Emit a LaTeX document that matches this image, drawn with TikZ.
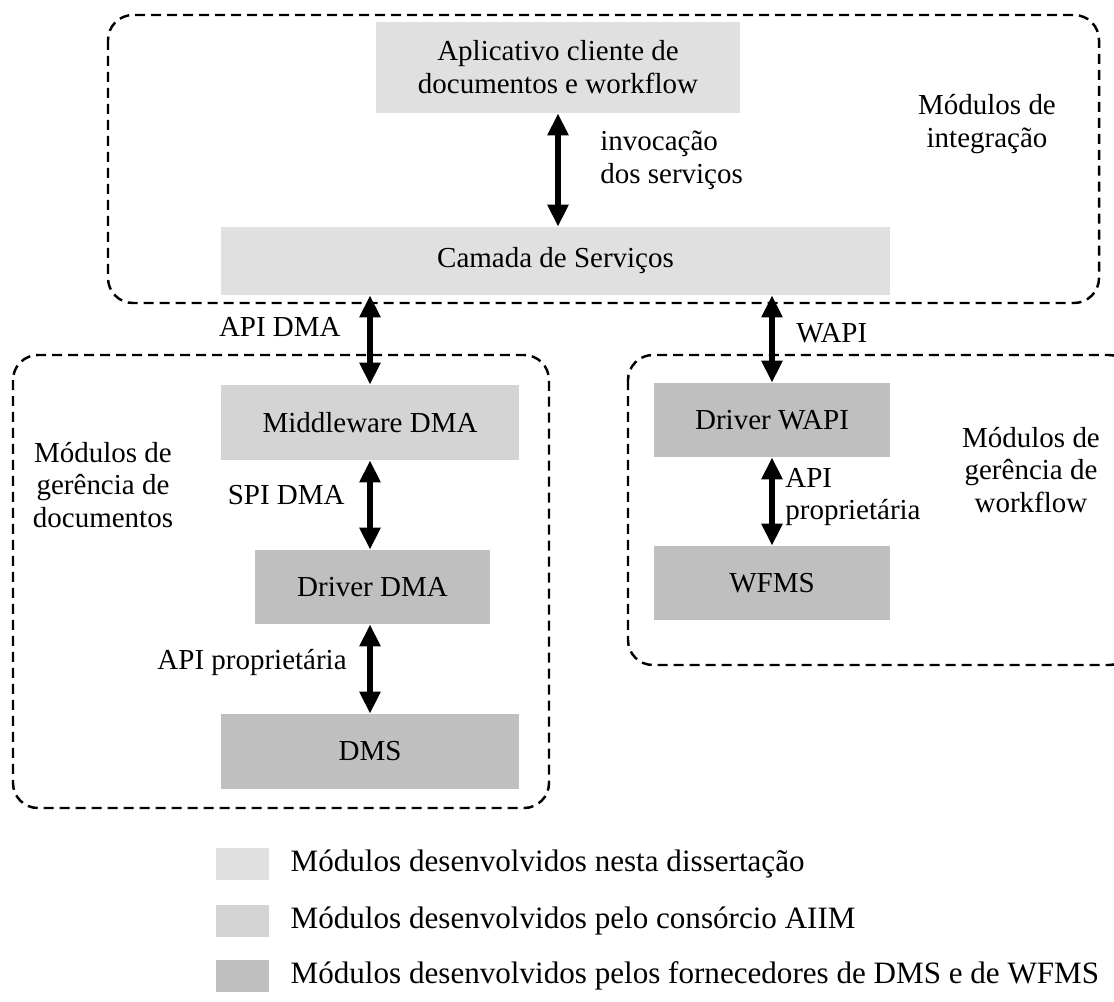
\documentclass[tikz,border=0pt]{standalone}
\usepackage{fontspec}
\setmainfont{Liberation Serif}
\usetikzlibrary{arrows.meta,positioning}

\definecolor{corDiss}{gray}{0.88}
\definecolor{corAiim}{gray}{0.83}
\definecolor{corForn}{gray}{0.75}

\begin{document}
\begin{tikzpicture}[x=0.02cm, y=-0.02cm,
  every node/.style={font=\fontsize{16.5}{18.7}\selectfont},
  modulo/.style={inner sep=0pt, align=center},
  grupo/.style={dash pattern=on 0.2cm off 0.12cm, line width=1.4pt, rounded corners=0.5cm},
  seta/.style={line width=3.4pt, {Triangle[width=0.4cm,length=0.44cm]}-{Triangle[width=0.4cm,length=0.44cm]}},
  rotulo/.style={inner sep=0pt, align=left},
  legenda/.style={minimum width=1.06cm, minimum height=0.64cm, inner sep=0pt},
  textoleg/.style={inner sep=0pt, font=\fontsize{17.7}{19}\selectfont}]

\useasboundingbox (0,0) rectangle (1114,1001);

% Grupos (tracejados)
\draw[grupo] (108,15) rectangle (1099,303);
\draw[grupo] (13,355) rectangle (549,808);
\draw[grupo] (628,355) rectangle (1134,665);

% Modulos de integracao
\node[modulo, fill=corDiss, minimum width=7.28cm, minimum height=1.82cm] (app) at (558,67.5) {Aplicativo cliente de\\documentos e workflow};
\node[modulo, fill=corDiss, minimum width=13.38cm, minimum height=1.36cm] (servicos) at (555.5,261) {Camada de Servi\c{c}os};

% Gerencia de documentos
\node[modulo, fill=corAiim, minimum width=5.96cm, minimum height=1.5cm] (middleware) at (370,422.5) {Middleware DMA};
\node[modulo, fill=corForn, minimum width=4.7cm, minimum height=1.48cm] (driverdma) at (372.5,587) {Driver DMA};
\node[modulo, fill=corForn, minimum width=5.96cm, minimum height=1.5cm] (dms) at (370,751.5) {DMS};

% Gerencia de workflow
\node[modulo, fill=corForn, minimum width=4.72cm, minimum height=1.48cm] (driverwapi) at (772,420) {Driver WAPI};
\node[modulo, fill=corForn, minimum width=4.72cm, minimum height=1.48cm] (wfms) at (772,583) {WFMS};

% Setas
\draw[seta] (app.south) -- (app.south |- servicos.north);
\draw[seta] (middleware.north |- servicos.south) -- (middleware.north);
\draw[seta] (middleware.south) -- (middleware.south |- driverdma.north);
\draw[seta] (dms.north |- driverdma.south) -- (dms.north);
\draw[seta] (driverwapi.north |- servicos.south) -- (driverwapi.north);
\draw[seta] (driverwapi.south) -- (wfms.north);

% Rotulos
\node[rotulo, anchor=west] (invoc) at (600,160) {invoca\c{c}\~ao\\dos servi\c{c}os};
\node[modulo] (integ) at (987,124) {M\'odulos de\\integra\c{c}\~ao};
\node[rotulo, anchor=east] (apidma) at (341,327) {API DMA};
\node[rotulo, anchor=east] (spidma) at (345,495) {SPI DMA};
\node[rotulo, anchor=east] (apiprop) at (347,662) {API propriet\'aria};
\node[rotulo, anchor=west] (wapi) at (796,333) {WAPI};
\node[rotulo, anchor=west] (apipropwf) at (785,497) {API\\propriet\'aria};
\node[modulo] (gerdoc) at (103,485) {M\'odulos de\\ger\^encia de\\documentos};
\node[modulo] (gerwf) at (1031,470) {M\'odulos de\\ger\^encia de\\workflow};

% Legenda
\node[legenda, fill=corDiss] (leg1) at (242.5,864) {};
\node[legenda, fill=corAiim] (leg2) at (242.5,921) {};
\node[legenda, fill=corForn] (leg3) at (242.5,976) {};
\node[textoleg, right=0.42cm of leg1] (txt1) {M\'odulos desenvolvidos nesta disserta\c{c}\~ao};
\node[textoleg, right=0.42cm of leg2] (txt2) {M\'odulos desenvolvidos pelo cons\'orcio AIIM};
\node[textoleg, right=0.42cm of leg3] (txt3) {M\'odulos desenvolvidos pelos fornecedores de DMS e de WFMS};

\end{tikzpicture}
\end{document}
